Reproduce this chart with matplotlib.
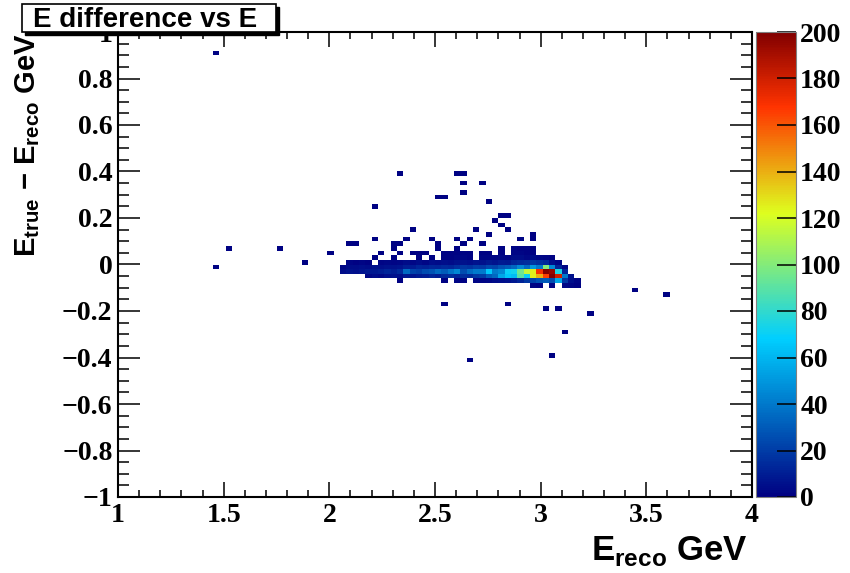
import numpy as np
import matplotlib
matplotlib.use('Agg')
import matplotlib.pyplot as plt
from matplotlib.colors import LinearSegmentedColormap
from matplotlib.patches import Rectangle
from matplotlib.ticker import MultipleLocator, FuncFormatter

# histogram binning: 100 x 100 bins
x_edges = np.linspace(1, 4, 101)
y_edges = np.linspace(-1, 1, 101)

# dense band: columns are bin centres 2.035 ... 3.175 (bin width 0.03)
band_x = [round(2.035 + 0.03 * c, 3) for c in range(39)]
band_y = [0.07, 0.05, 0.03, 0.01, -0.01, -0.03, -0.05, -0.07, -0.09]
band_counts = [
    # 34 35 36 37 38 39 40 41 42 43 44 45 46 47 48 49 50 51 52 53 54 55 56 57 58 59 60 61 62 63 64 65 66 67 68 69 70 71 72
    [0, 0, 0, 0, 0, 0, 0, 0, 0, 1, 0, 0, 0, 0, 0, 0, 1, 0, 0, 1, 0, 0, 0, 0, 0, 0, 1, 0, 2, 1, 1, 1, 0, 0, 0, 0, 0, 0, 0],
    [0, 0, 0, 0, 0, 0, 0, 1, 0, 0, 1, 0, 1, 1, 1, 0, 0, 1, 1, 1, 1, 1, 0, 1, 1, 0, 1, 0, 2, 2, 1, 1, 0, 0, 0, 0, 0, 0, 0],
    [0, 0, 0, 0, 0, 0, 1, 0, 0, 1, 0, 0, 0, 1, 0, 1, 0, 1, 1, 2, 2, 1, 0, 2, 2, 2, 3, 2, 4, 4, 3, 4, 3, 2, 1, 0, 0, 0, 0],
    [0, 0, 2, 1, 2, 1, 0, 2, 3, 2, 3, 4, 3, 4, 3, 5, 4, 5, 4, 6, 6, 5, 7, 6, 8, 7, 9, 8, 12, 14, 15, 18, 16, 14, 5, 2, 0, 0, 0],
    [0, 3, 4, 4, 5, 4, 6, 5, 6, 6, 7, 10, 9, 12, 11, 13, 12, 14, 13, 16, 18, 17, 20, 19, 24, 22, 28, 30, 35, 45, 35, 50, 40, 100, 45, 12, 3, 0, 0],
    [0, 4, 6, 5, 7, 8, 8, 10, 12, 10, 14, 35, 22, 20, 25, 28, 35, 30, 38, 45, 25, 35, 40, 40, 65, 40, 45, 70, 72, 95, 115, 125, 170, 200, 195, 75, 12, 0, 0],
    [0, 0, 0, 0, 0, 3, 4, 3, 5, 6, 5, 8, 7, 9, 10, 12, 10, 14, 15, 12, 15, 14, 18, 20, 30, 35, 55, 65, 62, 90, 70, 125, 140, 165, 200, 180, 40, 6, 0],
    [0, 0, 0, 0, 0, 0, 0, 0, 0, 0, 1, 0, 0, 0, 0, 0, 0, 1, 0, 2, 1, 0, 2, 2, 3, 4, 5, 6, 8, 12, 18, 22, 28, 30, 25, 55, 18, 5, 2],
    [0, 0, 0, 0, 0, 0, 0, 0, 0, 0, 0, 0, 0, 0, 0, 0, 0, 0, 0, 0, 0, 0, 0, 0, 0, 0, 0, 0, 0, 0, 0, 2, 1, 0, 2, 0, 3, 2, 1],
]

# scattered single entries (bin centres)
pts_x = [1.465, 1.525, 1.465, 1.765, 1.885, 2.005, 2.095, 2.305, 2.515, 2.125,
         2.215, 2.335, 2.215, 2.365, 2.485, 2.605, 2.665, 2.725, 2.905, 2.965,
         2.395, 2.635, 2.695, 2.845, 2.785, 2.755, 2.815, 2.815, 2.845, 2.905,
         2.965, 2.755, 2.515, 2.545, 2.635, 2.635, 2.725, 2.335, 2.605, 2.635,
         2.545, 2.845, 3.025, 3.085, 3.235, 3.115, 3.055, 2.665, 3.445, 3.595]
pts_y = [0.91, 0.07, -0.01, 0.07, 0.01, 0.05, 0.09, 0.09, 0.09, 0.09,
         0.11, 0.09, 0.25, 0.11, 0.11, 0.11, 0.11, 0.09, 0.11, 0.13,
         0.15, 0.09, 0.15, 0.15, 0.19, 0.13, 0.17, 0.21, 0.21, 0.11,
         0.11, 0.27, 0.29, 0.29, 0.31, 0.35, 0.35, 0.39, 0.39, 0.39,
         -0.17, -0.17, -0.19, -0.19, -0.21, -0.29, -0.39, -0.41, -0.11, -0.13]
pts_n = [1] * len(pts_x)

xs, ys, ws = [], [], []
for yy, row in zip(band_y, band_counts):
    for xx, n in zip(band_x, row):
        if n > 0:
            xs.append(xx); ys.append(yy); ws.append(n)
xs += pts_x; ys += pts_y; ws += pts_n

# ROOT style gradient palette
stops = [0.00, 0.34, 0.61, 0.84, 1.00]
red = [0.00, 0.00, 0.87, 1.00, 0.51]
green = [0.00, 0.81, 1.00, 0.20, 0.00]
blue = [0.51, 1.00, 0.12, 0.00, 0.00]
cmap = LinearSegmentedColormap.from_list(
    'root', list(zip(stops, zip(red, green, blue))), N=256)

W, H = 850, 573
fig = plt.figure(figsize=(W / 100, H / 100), dpi=100)
ax = fig.add_axes([118 / W, 76 / H, 634 / W, 465 / H])
h = ax.hist2d(xs, ys, bins=[x_edges, y_edges], weights=ws, cmap=cmap,
              vmin=0, vmax=200, cmin=0.5)
ax.set_xlim(1, 4)
ax.set_ylim(-1, 1)

tick_font = dict(family='Liberation Serif', weight='bold', size=20)
fmt = FuncFormatter(lambda v, p: ('%g' % round(v, 3)).replace('-', '\u2212'))
ax.xaxis.set_major_locator(MultipleLocator(0.5))
ax.xaxis.set_minor_locator(MultipleLocator(0.1))
ax.yaxis.set_major_locator(MultipleLocator(0.2))
ax.yaxis.set_minor_locator(MultipleLocator(0.05))
ax.xaxis.set_major_formatter(fmt)
ax.yaxis.set_major_formatter(fmt)
ax.tick_params(which='both', direction='in', top=True, right=True, width=1.1)
ax.tick_params(axis='x', which='major', length=11, pad=4)
ax.tick_params(axis='x', which='minor', length=5)
ax.tick_params(axis='y', which='major', length=16, pad=4)
ax.tick_params(axis='y', which='minor', length=8)
for lab in ax.get_xticklabels() + ax.get_yticklabels():
    lab.set_fontproperties(tick_font)
for sp in ax.spines.values():
    sp.set_linewidth(1.5)

# colour palette axis
cax = fig.add_axes([756 / W, 76 / H, 40 / W, 465 / H])
cb = fig.colorbar(h[3], cax=cax, ticks=np.arange(0, 201, 20))
cb.outline.set_edgecolor('#808080')
cb.outline.set_linewidth(0.8)
cax.tick_params(direction='in', length=14, width=1.1, pad=3)
cax.minorticks_off()
for lab in cax.get_yticklabels():
    lab.set_fontproperties(tick_font)

# axis titles
plt.rcParams['mathtext.fontset'] = 'custom'
plt.rcParams['mathtext.bf'] = 'Liberation Sans:bold'
plt.rcParams['mathtext.rm'] = 'Liberation Sans:bold'
fig.text(35 / W, 1 - 33 / H, r'E$_{\mathbf{true}}$ $\mathbf{-}$ E$_{\mathbf{reco}}$ GeV',
         rotation=90, rotation_mode='anchor', ha='right', va='baseline',
         family='Liberation Sans', weight='bold', size=21)
fig.text(748 / W, 1 - 560 / H, r'E$_{\mathbf{reco}}$ GeV', ha='right', va='baseline',
         family='Liberation Sans', weight='bold', size=25)

# title box with shadow
fig.patches.append(Rectangle((25 / W, 1 - 35 / H), 254 / W, 28 / H, transform=fig.transFigure,
                             facecolor='black', edgecolor='black', zorder=5))
fig.patches.append(Rectangle((22 / W, 1 - 32 / H), 254 / W, 28 / H, transform=fig.transFigure,
                             facecolor='white', edgecolor='black', linewidth=1.2, zorder=6))
fig.text(33 / W, 1 - 27 / H, 'E difference vs E', family='Liberation Sans', weight='bold',
         size=20, va='baseline', zorder=7)

fig.savefig('out.png', dpi=100)
